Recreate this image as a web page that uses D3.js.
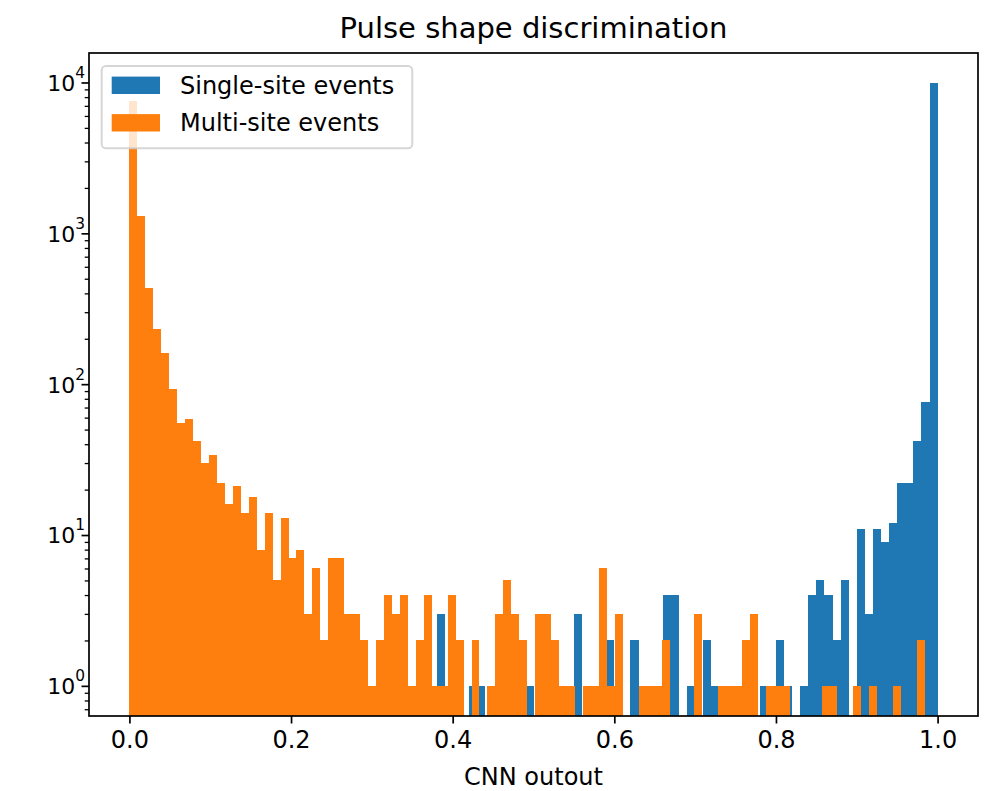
<!DOCTYPE html>
<html><head><meta charset="utf-8">
<script src="https://cdn.jsdelivr.net/npm/d3@7"></script>
<style>
body{margin:0;background:#fff}
text{font-family:"DejaVu Sans",sans-serif;fill:#000}
</style>
</head><body>
<svg id="chart" width="993" height="791"></svg>
<script>
// ---------------- data ----------------
const title = "Pulse shape discrimination";
const xLabel = "CNN outout";
const seriesNames = ["Single-site events", "Multi-site events"];
const nBins = 100;
const singleRange = [0.0, 1.0];      // bin range of single-site histogram
const multiRange = [0.0, 0.9844];    // bin range of multi-site histogram
const singleCounts = [
  0,0,0,0,0,0,0,0,0,0,
  0,0,0,0,0,0,0,0,0,0,
  0,0,0,0,0,0,0,0,0,0,
  0,0,0,0,0,0,0,0,3,0,
  0,0,1,1,0,0,0,0,0,1,
  0,0,0,0,0,3,0,0,0,2,
  1,0,2,0,0,0,4,4,0,1,
  0,2,1,0,0,0,0,0,1,0,
  2,1,0,1,4,5,4,2,5,0,
  11,3,11,9,12,22,22,42,76,9900
];
const multiCounts = [
  7500,1300,432,231,162,93,55,59,42,30,
  34,22,16,21,14,18,8,14,5,13,
  7,8,3,6,2,7,7,3,3,2,
  1,2,4,3,4,1,2,4,1,1,
  4,2,0,2,0,1,3,5,3,2,
  0,3,3,2,1,1,0,1,1,6,
  1,3,0,0,1,1,1,2,0,0,
  0,3,0,0,1,1,1,2,3,0,
  1,1,1,0,0,0,0,1,1,0,
  0,1,0,1,0,0,1,0,0,2
];
const xTicks = [0.0, 0.2, 0.4, 0.6, 0.8, 1.0];
const xTickLabels = ["0.0", "0.2", "0.4", "0.6", "0.8", "1.0"];
const yTicks = [1, 10, 100, 1000, 10000];
const yTickExps = ["0", "1", "2", "3", "4"];
const colors = ["#1f77b4", "#ff7f0e"];

// ---------------- layout ----------------
const W = 993, H = 791;
const L = 89, R = 978, T = 53, B = 716;
const FS = 24;      // tick labels, legend, axis label
const FSY = 22;     // y tick label base size

const svg = d3.select("#chart");

const x = d3.scaleLinear().domain([-0.05, 1.05]).range([L, R]);
const maxCount = d3.max(singleCounts.concat(multiCounts));
const lmin = 0, lmax = Math.log10(maxCount);
const pad = (lmax - lmin) * 0.05;
const y = d3.scaleLog().domain([Math.pow(10, lmin - pad), Math.pow(10, lmax + pad)]).range([B, T]);

svg.append("defs").append("clipPath").attr("id", "plot")
  .append("rect").attr("x", L).attr("y", T).attr("width", R - L).attr("height", B - T);

function bins(counts, range) {
  const w = (range[1] - range[0]) / nBins;
  return counts.map((c, i) => ({x0: range[0] + i * w, x1: range[0] + (i + 1) * w, c}));
}

const plot = svg.append("g").attr("clip-path", "url(#plot)");
[[singleCounts, singleRange], [multiCounts, multiRange]].forEach(([counts, range], si) => {
  plot.append("g").selectAll("rect")
    .data(bins(counts, range).filter(d => d.c > 0))
    .join("rect")
    .attr("x", d => x(d.x0))
    .attr("width", d => x(d.x1) - x(d.x0))
    .attr("y", d => y(d.c))
    .attr("height", d => B + 5 - y(d.c))
    .attr("fill", colors[si])
    .attr("shape-rendering", "crispEdges");
});

// x axis
const xAxis = svg.append("g").attr("transform", `translate(0,${B})`)
  .call(d3.axisBottom(x).tickValues(xTicks).tickSize(7.5).tickPadding(7)
    .tickFormat((d, i) => xTickLabels[i]));
xAxis.select(".domain").remove();
xAxis.selectAll("line").attr("stroke", "#000").attr("stroke-width", 1.7);
xAxis.selectAll("text").attr("font-size", FS).attr("font-family", "DejaVu Sans").attr("fill", "#000");

// y axis major
const yAxis = svg.append("g").attr("transform", `translate(${L},0)`)
  .call(d3.axisLeft(y).tickValues(yTicks).tickSize(7.5).tickFormat(() => ""));
yAxis.select(".domain").remove();
yAxis.selectAll("line").attr("stroke", "#000").attr("stroke-width", 1.7);
yAxis.selectAll(".tick text").remove();
yAxis.selectAll(".tick").each(function(d, i) {
  const t = d3.select(this).append("text")
    .attr("x", -4).attr("y", 0).attr("text-anchor", "end")
    .attr("font-size", FSY).attr("fill", "#000");
  t.append("tspan").attr("dy", "0.36em").text("10");
  t.append("tspan").attr("font-size", FSY * 0.7).attr("dy", "-0.85em").text(yTickExps[i]);
});

// y axis minor
const [d0, d1] = y.domain();
const minor = [];
for (let e = Math.floor(Math.log10(d0)); e <= Math.ceil(Math.log10(d1)); e++) {
  for (let m = 2; m <= 9; m++) {
    const v = m * Math.pow(10, e);
    if (v >= d0 && v <= d1) minor.push(v);
  }
}
const yMinor = svg.append("g").attr("transform", `translate(${L},0)`)
  .call(d3.axisLeft(y).tickValues(minor).tickSize(4.3).tickFormat(() => ""));
yMinor.select(".domain").remove();
yMinor.selectAll("line").attr("stroke", "#000").attr("stroke-width", 1.3);

// frame
svg.append("rect").attr("x", L).attr("y", T).attr("width", R - L).attr("height", B - T)
  .attr("fill", "none").attr("stroke", "#000").attr("stroke-width", 1.7);

// title and labels
svg.append("text").attr("x", (L + R) / 2).attr("y", 38).attr("text-anchor", "middle")
  .attr("font-size", 29).text(title);
svg.append("text").attr("x", (L + R) / 2).attr("y", 785).attr("text-anchor", "middle")
  .attr("font-size", FS).text(xLabel);

// legend
const lg = svg.append("g");
lg.append("rect").attr("x", 101.7).attr("y", 66).attr("width", 310.6).attr("height", 82.3)
  .attr("rx", 4.3).attr("fill", "#fff").attr("fill-opacity", 0.8)
  .attr("stroke", "#cccccc").attr("stroke-opacity", 0.8).attr("stroke-width", 2);
seriesNames.forEach((name, i) => {
  const cy = 85.3 + i * 37.5;
  lg.append("rect").attr("x", 111.7).attr("y", cy - 8.7).attr("width", 48.3).attr("height", 17.4)
    .attr("fill", colors[i]);
  lg.append("text").attr("x", 180).attr("y", cy + 8.4).attr("font-size", FS).text(name);
});
</script>
</body></html>
